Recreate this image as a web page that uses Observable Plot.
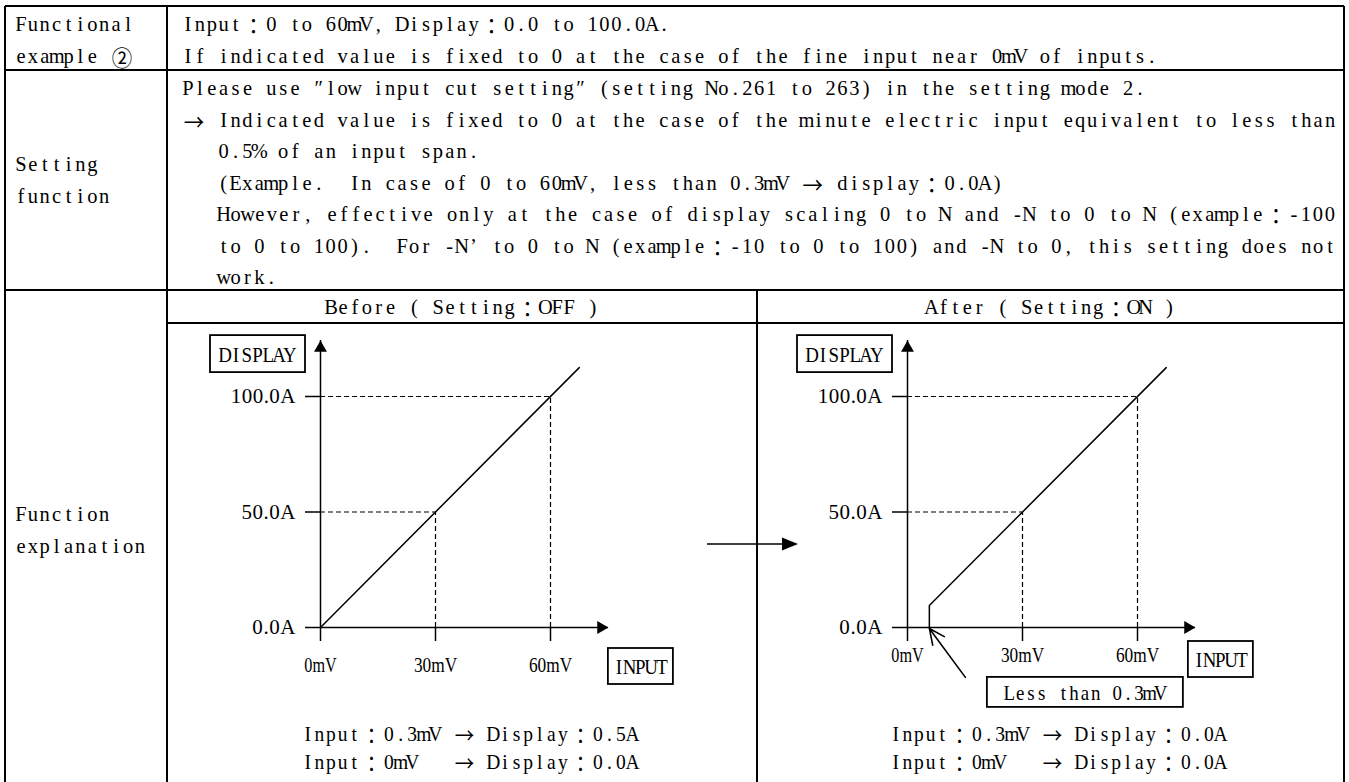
<!DOCTYPE html>
<html>
<head>
<meta charset="utf-8">
<script src="https://cdn.jsdelivr.net/npm/d3@7"></script>
<script src="https://cdn.jsdelivr.net/npm/@observablehq/plot@0.6"></script>
<style>
  html, body { margin: 0; padding: 0; background: #fff; }
  #page { position: relative; width: 1349px; height: 782px; overflow: hidden; background: #fff; }
  #page > svg { position: absolute; }
</style>
</head>
<body>
<div id="page"></div>
<script>
// ---------------- data ----------------
const xTicks = [0, 30, 60];                 // input, mV
const yTicks = [0, 50, 100];                // display, A
const guidePoints = [{mv: 30, a: 50}, {mv: 60, a: 100}];
const beforeLine = [{mv: 0, a: 0}, {mv: 67.5, a: 112.5}];
const afterLine = [{mv: 5.7, a: 0}, {mv: 5.7, a: 9.5}, {mv: 67.5, a: 112.5}];
const xAxisTip = 75.1;                      // end of the input axis arrow (mV)
const yAxisTip = 124.2;                     // end of the display axis arrow (A)
const pointer = [{x1: 15.1, y1: -21.6, x2: 5.7, y2: -0.4}];

const rowLabels = [["Functional", "example ②"], ["Setting", "function"], ["Function", "explanation"]];
const row1Lines = [
  "Input：0 to 60mV, Display：0.0 to 100.0A.",
  "If indicated value is fixed to 0 at the case of the fine input near 0mV of inputs."
];
const row2Lines = [
  "Please use ″low input cut setting″ (setting No.261 to 263) in the setting mode 2.",
  "→ Indicated value is fixed to 0 at the case of the minute electric input equivalent to less than",
  "0.5% of an input span.",
  "(Example.  In case of 0 to 60mV, less than 0.3mV → display：0.0A)",
  "However, effective only at the case of display scaling 0 to N and -N to 0 to N (example：-100",
  "to 0 to 100).  For -N’ to 0 to N (example：-10 to 0 to 100) and -N to 0, this setting does not",
  "work."
];
const row2Indent = [0, 0, 3, 3, 3, 3, 3];
const row2Justify = [false, true, false, false, true, true, false];
const headers = ["Before ( Setting：OFF )", "After ( Setting：ON )"];
const beforeNotes = ["Input：0.3mV → Display：0.5A", "Input：0mV   → Display：0.0A"];
const afterNotes = ["Input：0.3mV → Display：0.0A", "Input：0mV   → Display：0.0A"];
const axisNames = ["DISPLAY", "INPUT"];
const calloutText = "Less than 0.3mV";

// ---------------- layout ----------------
const W = 1349, H = 782;
const FONT = "'Liberation Serif', 'Noto Sans CJK JP', serif";
const CJK = "'Noto Sans CJK JP', 'Liberation Serif', sans-serif";
const G = {left: 5, right: 1344, top: 6, col: 167, mid: 757, r1: 70, r2: 290, hdr: 323};
const BODY = {unit: 11.9, size: 22, sx: 0.93};
const CHART = {unit: 10.8, size: 21, sx: 0.9};

function cellUnits(ch) {
  if (ch === "\u2019" || ch === "\u2033") return 1;
  return /[\u2000-\u2BFF\u3000-\u33FF\uFF00-\uFF60]/.test(ch) ? 2 : 1;
}

// monospaced (half-width cell) text, like a Mincho document font
function monoText(parent, str, o) {
  const chars = Array.from(str);
  const w = chars.map(cellUnits);
  const total = d3.sum(w);
  const u = o.width ? o.width / total : o.unit;
  let x0 = o.x;
  if (o.anchor === "middle") x0 -= total * u / 2;
  else if (o.anchor === "end") x0 -= total * u;
  let pos = 0;
  const xs = chars.map((c, i) => { const v = (x0 + (pos + w[i] / 2) * u) / o.sx; pos += w[i]; return v.toFixed(2); });
  const t = parent.append("text")
    .attr("class", "mono")
    .attr("transform", `scale(${o.sx},1)`)
    .attr("x", xs.join(" "))
    .attr("y", o.y)
    .attr("text-anchor", "middle")
    .attr("dominant-baseline", "central")
    .attr("font-size", o.size)
    .attr("font-family", FONT)
    .attr("fill", "black")
    .attr("xml:space", "preserve")
    .style("white-space", "pre");
  // half-width runs as plain text, full-width signs in a CJK face
  let run = "";
  const flush = () => { if (run) { t.node().appendChild(document.createTextNode(run)); run = ""; } };
  chars.forEach((c, i) => {
    if (w[i] === 2) {
      flush();
      t.append("tspan").attr("font-family", CJK).text(c);
    } else run += c;
  });
  flush();
  return t;
}

const page = d3.select("#page");

// ---------- table frame and texts ----------
const svg = page.append("svg").attr("width", W).attr("height", H).style("left", "0px").style("top", "0px");
const frame = svg.append("g").attr("stroke", "black").attr("stroke-width", 2).attr("fill", "none");
[
  [G.left, G.top, G.right, G.top],
  [G.left, G.top, G.left, H],
  [G.right, G.top, G.right, H],
  [G.col, G.top, G.col, H],
  [G.left, G.r1, G.right, G.r1],
  [G.left, G.r2, G.right, G.r2],
  [G.col, G.hdr, G.right, G.hdr],
  [G.mid, G.r2, G.mid, H]
].forEach(([x1, y1, x2, y2]) => frame.append("line").attr("x1", x1).attr("y1", y1).attr("x2", x2).attr("y2", y2));

const txt = svg.append("g");
const labelX = 15, textX = 182, rightEdge = 1336;
const row1Y = [24, 56];
const row2Y = [88, 119.5, 151, 182.5, 214, 245.5, 277];
const labelY = [[24, 56], [164, 196], [514, 546]];
rowLabels.forEach((lines, r) => lines.forEach((s, i) =>
  monoText(txt, s, {...BODY, x: labelX, y: labelY[r][i]})));
row1Lines.forEach((s, i) => monoText(txt, s, {...BODY, x: textX, y: row1Y[i]}));
row2Lines.forEach((s, i) => {
  const x = textX + row2Indent[i] * BODY.unit;
  monoText(txt, s, {...BODY, x, y: row2Y[i], width: row2Justify[i] ? rightEdge - x : null});
});
monoText(txt, headers[0], {...BODY, x: (G.col + G.mid) / 2, y: 307, anchor: "middle"});
monoText(txt, headers[1], {...BODY, x: (G.mid + G.right) / 2, y: 307, anchor: "middle"});
beforeNotes.forEach((s, i) => monoText(txt, s, {...BODY, size: 21, unit: 11.6, x: 302, y: 734 + i * 28}));
afterNotes.forEach((s, i) => monoText(txt, s, {...BODY, size: 21, unit: 11.6, x: 890, y: 734 + i * 28}));

// arrow between the two panels
svg.append("line").attr("x1", 707).attr("y1", 544).attr("x2", 785).attr("y2", 544)
  .attr("stroke", "black").attr("stroke-width", 1.5);
svg.append("path").attr("d", "M782,537.5L798,544L782,550.5Z").attr("fill", "black");

// ---------- the two Plot panels ----------
function box(g, x, y, w, h, label) {
  g.append("rect").attr("x", x).attr("y", y).attr("width", w).attr("height", h)
    .attr("fill", "white").attr("stroke", "black").attr("stroke-width", 1.8);
  monoText(g, label, {...CHART, x: x + w / 2, y: y + h / 2 + 1, anchor: "middle"});
}

function panel(cfg) {
  const marks = [
    Plot.ruleY(guidePoints, {y: "a", x1: 0, x2: "mv", strokeDasharray: "5,3", strokeWidth: 1.2}),
    Plot.ruleX(guidePoints, {x: "mv", y1: 0, y2: "a", strokeDasharray: "5,3", strokeWidth: 1.2}),
    Plot.ruleX([0], {y1: 0, y2: yAxisTip, strokeWidth: 1.5}),
    Plot.ruleY([0], {x1: 0, x2: xAxisTip, strokeWidth: 1.5}),
    Plot.dot([{mv: 0, a: yAxisTip}], {x: "mv", y: "a", symbol: "triangle", r: 4.8, fill: "black", dy: 7.4}),
    Plot.dot([{mv: xAxisTip, a: 0}], {x: "mv", y: "a", symbol: "triangle", r: 4.8, fill: "black", rotate: 90, dx: -7.4}),
    Plot.axisY(yTicks, {tickFormat: d => d.toFixed(1) + "A", tickSize: 15, tickPadding: 10, label: null, strokeWidth: 1.5, fontSize: CHART.size}),
    Plot.axisX(xTicks, {tickFormat: d => d + "mV", tickSize: 14, tickPadding: cfg.xPad, label: null, strokeWidth: 1.5, fontSize: CHART.size}),
    Plot.line(cfg.line, {x: "mv", y: "a", strokeWidth: 1.5}),
    (index, {x, y}) => {
      const g = d3.create("svg:g");
      const ax = x(0), ay = y(0);
      box(g, ax - 110, y(yAxisTip) - 5, 95, 37, axisNames[0]);
      box(g, x(xAxisTip) + cfg.inDx, ay + cfg.inDy, 65, 36, axisNames[1]);
      if (cfg.callout) {
        const p = pointer[0];
        box(g, x(p.x1) + 22, y(p.y1), 196, 30, calloutText);
      }
      return g.node();
    }
  ];
  if (cfg.callout) {
    marks.push(Plot.arrow(pointer, {x1: "x1", y1: "y1", x2: "x2", y2: "y2", headLength: 16, headAngle: 50, strokeWidth: 1.6}));
  }
  const chart = Plot.plot({
    width: cfg.width, height: cfg.height,
    marginLeft: cfg.marginLeft, marginRight: cfg.marginRight,
    marginTop: 72, marginBottom: 155,
    x: {domain: [0, 60], inset: 0},
    y: {domain: [0, 100], inset: 0},
    style: {background: "transparent", overflow: "visible", fontFamily: FONT, fontSize: CHART.size + "px", color: "black"},
    marks
  });
  chart.style.left = cfg.left + "px";
  chart.style.top = cfg.top + "px";
  page.node().appendChild(chart);
  // give Plot's tick labels the same cell-width look
  chart.querySelectorAll("text:not(.mono)").forEach(t => {
    const s = t.textContent;
    if (!s) return;
    const target = d3.sum(Array.from(s), cellUnits) * CHART.unit;
    const nat = t.getComputedTextLength();
    t.setAttribute("textLength", target);
    t.setAttribute("lengthAdjust", nat > target ? "spacingAndGlyphs" : "spacing");
  });
  return chart;
}

panel({left: 168, top: 324, width: 589, height: 458, marginLeft: 152, marginRight: 207,
       line: beforeLine, xPad: 16, inDx: 0, inDy: 21, callout: false});
panel({left: 758, top: 324, width: 586, height: 458, marginLeft: 149, marginRight: 207,
       line: afterLine, xPad: 6, inDx: -7, inDy: 14, callout: true});
</script>
</body>
</html>
